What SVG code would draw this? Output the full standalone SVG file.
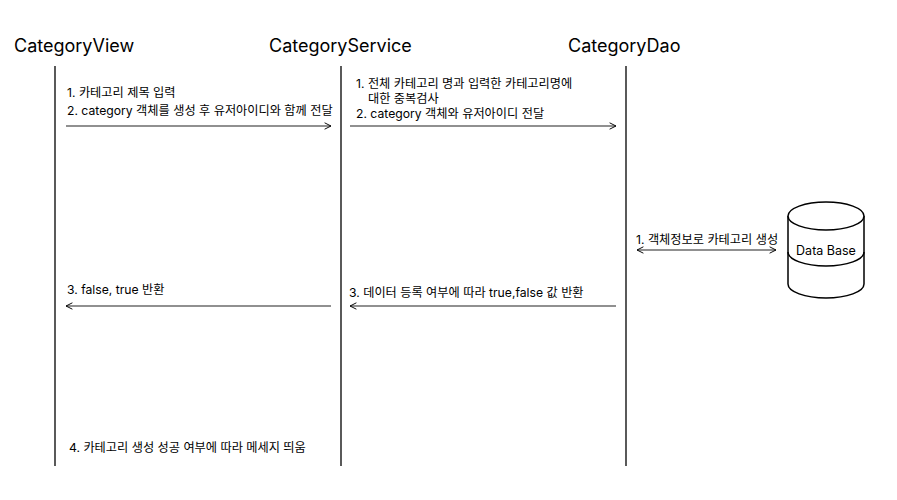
<svg xmlns="http://www.w3.org/2000/svg" width="897" height="500" viewBox="0 0 897 500">
<defs>
<style>
.title{font-family:Inter,"Noto Sans CJK KR",sans-serif;font-size:18px;fill:#000}
.lbl{font-family:Inter,"Noto Sans CJK KR",sans-serif;font-size:12.2px;fill:#000}
.life{stroke:#000;stroke-width:1.3;fill:none}
.msg{stroke:#6b6b6b;stroke-width:1.5;fill:none}
.db{stroke:#000;stroke-width:1.5;fill:#fff}
</style>
<marker id="ah" viewBox="0 0 10 10" refX="9" refY="5" markerWidth="8" markerHeight="8" orient="auto-start-reverse" markerUnits="userSpaceOnUse">
<path d="M1,1 L9,5 L1,9" fill="none" stroke="#000" stroke-width="1.2"/>
</marker>
</defs>
<rect width="897" height="500" fill="#fff"/>
<g id="view">
<text class="title" x="14" y="52">CategoryView</text>
<line class="life" x1="55" y1="66" x2="55" y2="466"/>
</g>
<g id="service">
<text class="title" x="269" y="52">CategoryService</text>
<line class="life" x1="341" y1="66" x2="341" y2="466"/>
</g>
<g id="dao">
<text class="title" x="568" y="52">CategoryDao</text>
<line class="life" x1="626" y1="66" x2="626" y2="466"/>
</g>
<g id="database">
<path class="db" d="M788,216 A38,14 0 0 1 864,216 L864,284 A38,14 0 0 1 788,284 Z"/>
<path class="db" d="M788,216 A38,14 0 0 0 864,216" fill="none"/>
<path d="M788,252 A38,14 0 0 0 864,252" fill="none" stroke="#000" stroke-width="1.5"/>
<text class="lbl" x="826" y="255" text-anchor="middle" style="font-size:12.5px">Data Base</text>
</g>
<g id="connectors">
<line class="msg" x1="66" y1="126" x2="331" y2="126" marker-end="url(#ah)"/>
<line class="msg" x1="350" y1="126" x2="616" y2="126" marker-end="url(#ah)"/>
<line class="msg" x1="637" y1="250" x2="776" y2="250" marker-start="url(#ah)" marker-end="url(#ah)"/>
<line class="msg" x1="331" y1="306" x2="66" y2="306" marker-end="url(#ah)"/>
<line class="msg" x1="616" y1="306" x2="350" y2="306" marker-end="url(#ah)"/>
</g>
<g id="labels">
<text class="lbl" x="67" y="97">1. 카테고리 제목 입력</text>
<text class="lbl" x="67" y="115">2. category 객체를 생성 후 유저아이디와 함께 전달</text>
<text class="lbl" x="356" y="88">1. 전체 카테고리 명과 입력한 카테고리명에</text>
<text class="lbl" x="368" y="103">대한 중복검사</text>
<text class="lbl" x="356" y="118">2. category 객체와 유저아이디 전달</text>
<text class="lbl" x="636" y="244">1. 객체정보로 카테고리 생성</text>
<text class="lbl" x="67" y="294">3. false, true 반환</text>
<text class="lbl" x="349" y="297">3. 데이터 등록 여부에 따라 true,false 값 반환</text>
<text class="lbl" x="69" y="452">4. 카테고리 생성 성공 여부에 따라 메세지 띄움</text>
</g>
</svg>
